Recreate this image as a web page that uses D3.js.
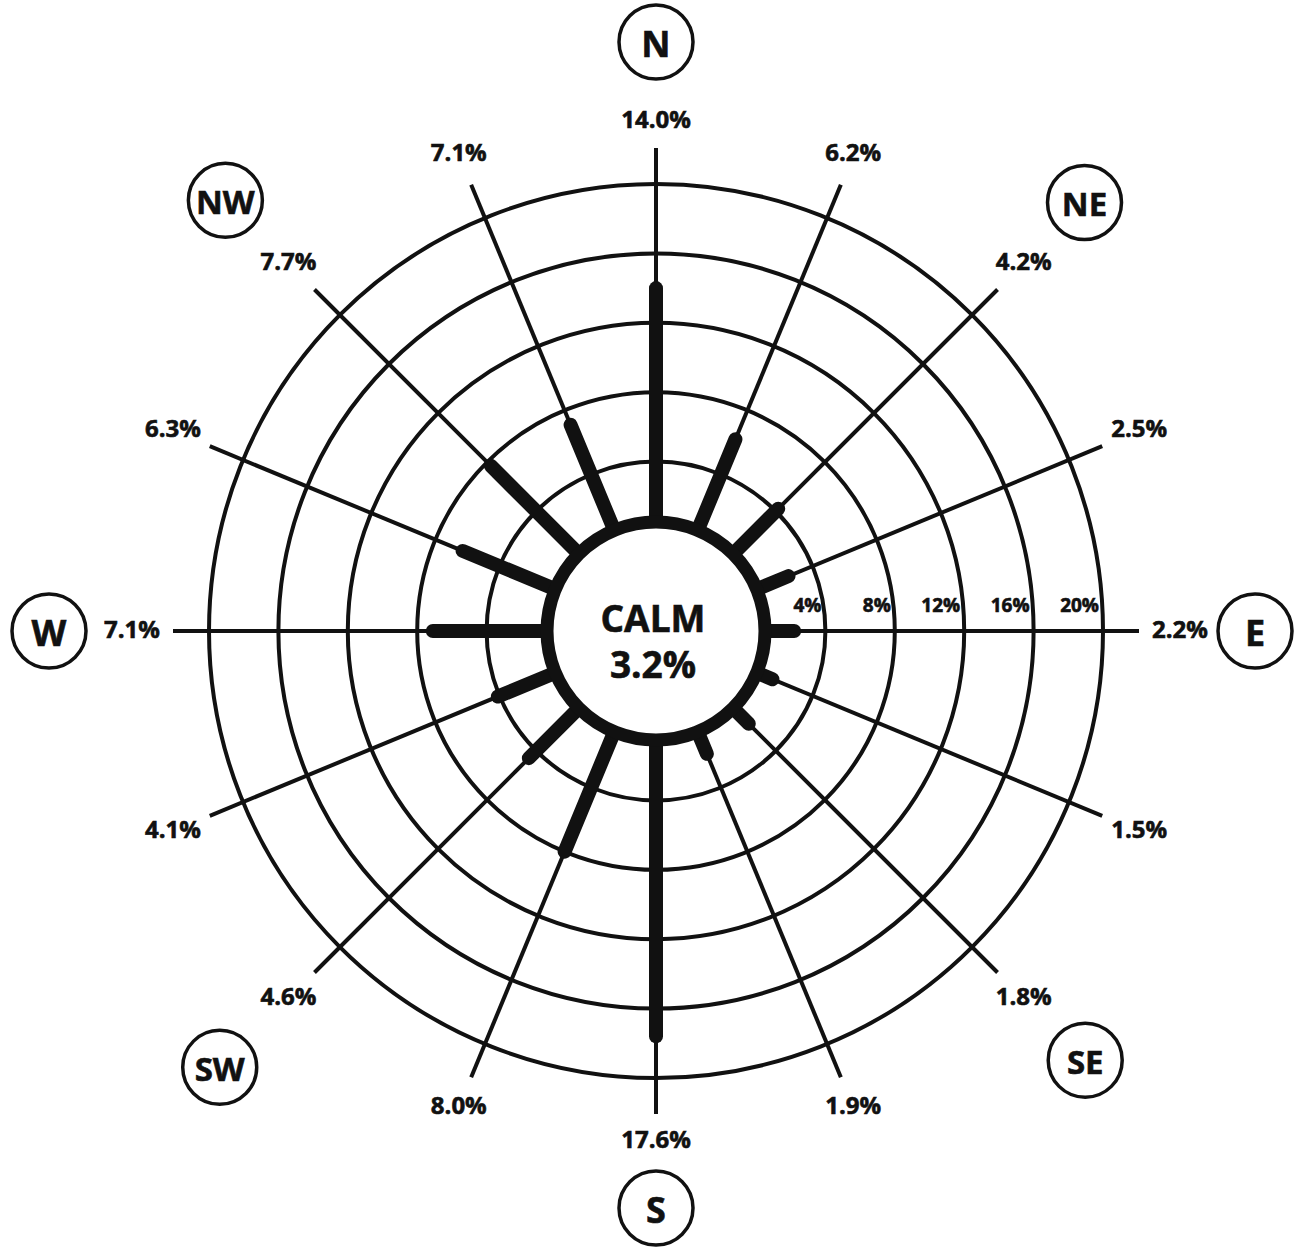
<!DOCTYPE html>
<html>
<head>
<meta charset="utf-8">
<script src="https://cdn.jsdelivr.net/npm/d3@7"></script>
<style>
  html, body { margin: 0; padding: 0; background: #fff; }
  svg { display: block; }
  text { font-family: "Open Sans", "Noto Sans", sans-serif; font-weight: 700; fill: #111; stroke: #111; stroke-width: 0.6px; }
</style>
</head>
<body>
<svg id="chart" width="1295" height="1247"></svg>
<script>
// ---- data ----
const directions = ["N","NNE","NE","ENE","E","ESE","SE","SSE","S","SSW","SW","WSW","W","WNW","NW","NNW"];
const frequencies = [14.0, 6.2, 4.2, 2.5, 2.2, 1.5, 1.8, 1.9, 17.6, 8.0, 4.6, 4.1, 7.1, 6.3, 7.7, 7.1];
const compassPoints = ["N","NE","E","SE","S","SW","W","NW"];
const ringTicks = [4, 8, 12, 16, 20];
const calmLabel = "CALM";
const calmValue = 3.2;

// ---- layout ----
const cx = 656, cy = 631;
const badgeRadius = [589, 606, 599, 607, 577, 617, 607, 609];
const svg = d3.select("#chart");
const g = svg.append("g").attr("transform", `translate(${cx},${cy})`);

const r = d3.scaleLinear().domain([0, 20]).range([100, 447]);
const angle = d3.scaleBand().domain(directions).range([0, 2 * Math.PI]);
const spokeEnd = 483;
const calmR = 109;
const ink = "#111";

const px = (a, rad) => rad * Math.sin(a);
const py = (a, rad) => -rad * Math.cos(a);

// rings
g.selectAll("circle.ring").data(ringTicks).join("circle")
  .attr("class", "ring")
  .attr("r", d => r(d))
  .attr("fill", "none").attr("stroke", ink).attr("stroke-width", 4);

// spokes
g.selectAll("line.spoke").data(directions).join("line")
  .attr("class", "spoke")
  .attr("x1", d => px(angle(d), calmR)).attr("y1", d => py(angle(d), calmR))
  .attr("x2", d => px(angle(d), spokeEnd)).attr("y2", d => py(angle(d), spokeEnd))
  .attr("stroke", ink).attr("stroke-width", 4);

// bars
const barData = directions.map((d, i) => ({ dir: d, v: frequencies[i] }));
g.selectAll("line.bar").data(barData).join("line")
  .attr("class", "bar")
  .attr("x1", d => px(angle(d.dir), calmR)).attr("y1", d => py(angle(d.dir), calmR))
  .attr("x2", d => px(angle(d.dir), r(d.v))).attr("y2", d => py(angle(d.dir), r(d.v)))
  .attr("stroke", ink).attr("stroke-width", 14).attr("stroke-linecap", "round");

// calm circle
g.append("circle").attr("r", calmR)
  .attr("fill", "#fff").attr("stroke", ink).attr("stroke-width", 13);

g.append("text").attr("x", -3).attr("y", 1)
  .attr("text-anchor", "middle").style("font-size", "37px").text(calmLabel);
g.append("text").attr("x", -3).attr("y", 47)
  .attr("text-anchor", "middle").style("font-size", "37px").text(calmValue.toFixed(1) + "%");

// ring tick labels (along E axis)
g.selectAll("text.tick").data(ringTicks).join("text")
  .attr("class", "tick")
  .attr("x", d => r(d) - 4).attr("y", -19)
  .attr("text-anchor", "end").style("font-size", "19px")
  .text(d => d + "%");

// percentage labels
g.selectAll("text.pct").data(barData).join("text")
  .attr("class", "pct")
  .each(function(d) {
    const a = angle(d.dir);
    const rr = 510 + 14 * Math.abs(Math.sin(a));
    d3.select(this).attr("x", px(a, rr)).attr("y", py(a, rr) - 3);
  })
  .attr("text-anchor", "middle").attr("dominant-baseline", "central")
  .style("font-size", "24px")
  .text(d => d.v.toFixed(1) + "%");

// compass point badges
const badge = g.selectAll("g.badge").data(compassPoints).join("g")
  .attr("class", "badge")
  .attr("transform", (d, i) => {
    const a = angle(d);
    const rr = badgeRadius[i];
    return `translate(${px(a, rr)},${py(a, rr)})`;
  });
badge.append("circle").attr("r", 37)
  .attr("fill", "#fff").attr("stroke", ink).attr("stroke-width", 3.5);
badge.append("text")
  .attr("text-anchor", "middle").attr("dominant-baseline", "central")
  .attr("y", 1)
  .style("font-size", d => d.length > 1 ? "33px" : "36px")
  .text(d => d);
</script>
</body>
</html>
